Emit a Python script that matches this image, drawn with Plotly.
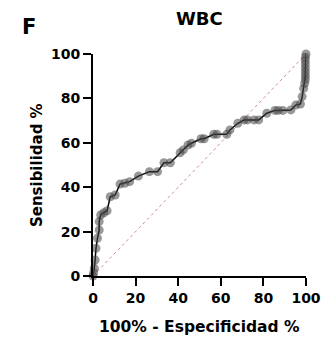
import plotly.graph_objects as go

# ROC curve points (100% - specificity, sensitivity)
fpr = [0, 0.3, 0.6, 1.0, 1.4, 2.1, 2.9, 2.9, 3.6, 5.1,
       6.6, 8.1, 10.4, 12.7, 14.9, 17.2, 21.3, 26.5, 30.3, 33.3,
       36.3, 40.9, 42.4, 44.6, 46.2, 50.7, 52.2, 56.7, 58.2, 62.8,
       64.3, 68.0, 71.0, 72.5, 75.6, 77.8, 81.6, 85.4, 86.9, 89.1,
       92.9, 95.2, 97.4, 98.2, 98.9, 99.4, 99.7, 99.7, 99.7, 99.7,
       99.7, 99.7, 99.7, 100]
tpr = [0, 1.5, 3.5, 7.2, 12.5, 17.0, 20.7, 24.5, 27.5, 28.5,
       29.4, 35.7, 36.5, 41.4, 41.8, 42.5, 45.0, 47.0, 47.0, 51.0,
       51.0, 55.5, 56.8, 59.0, 59.8, 61.8, 61.8, 63.8, 63.8, 63.8,
       65.8, 68.8, 70.3, 70.3, 70.3, 70.3, 73.3, 74.6, 74.6, 74.6,
       74.8, 77.0, 77.5, 80.8, 84.5, 86.8, 88.5, 90.2, 91.9, 93.6,
       95.3, 97.0, 98.5, 100]
diag = [0, 100]
ticks = [0, 20, 40, 60, 80, 100]

FONT = "DejaVu Sans, Arial, sans-serif"

fig = go.Figure()
fig.add_trace(go.Scatter(x=diag, y=diag, mode="lines",
                         line=dict(color="#d09090", width=1, dash="dot"),
                         hoverinfo="skip", cliponaxis=False))
fig.add_trace(go.Scatter(x=fpr, y=tpr, mode="lines+markers",
                         line=dict(color="black", width=1.5),
                         marker=dict(size=9, color="rgba(70,70,70,0.55)",
                                     line=dict(width=0)),
                         cliponaxis=False))

axis_common = dict(range=[0, 100], tickvals=ticks, showline=True, linecolor="black",
                   linewidth=2, ticks="outside", ticklen=8, tickwidth=2,
                   tickcolor="black", showgrid=False, zeroline=False,
                   tickfont=dict(family=FONT, size=14, color="black", weight="bold"))

fig.update_layout(
    width=325, height=332,
    margin=dict(l=85, r=19, t=46, b=64),
    paper_bgcolor="white", plot_bgcolor="white",
    showlegend=False,
    xaxis=axis_common,
    yaxis=axis_common,
    annotations=[
        dict(text="WBC", xref="paper", yref="paper", x=0.5, y=1.0, yshift=35.5,
             xanchor="center", yanchor="middle", showarrow=False,
             font=dict(family=FONT, size=18, color="black", weight="bold")),
        dict(text="F", xref="paper", yref="paper", x=(27 - 93) / 221, y=1.0, yshift=27,
             xanchor="center", yanchor="middle", showarrow=False,
             font=dict(family=FONT, size=21, color="black", weight="bold")),
        dict(text="Sensibilidad %", xref="paper", yref="paper", x=(35 - 93) / 221, y=0.5,
             xanchor="center", yanchor="middle", textangle=-90, showarrow=False,
             font=dict(family=FONT, size=15, color="black", weight="bold")),
        dict(text="100% - Especificidad %", xref="paper", yref="paper", x=0.5,
             y=-(327 - 276) / 222, xanchor="center", yanchor="middle", showarrow=False,
             font=dict(family=FONT, size=15.5, color="black", weight="bold")),
    ],
)

fig.write_html("out.html")
